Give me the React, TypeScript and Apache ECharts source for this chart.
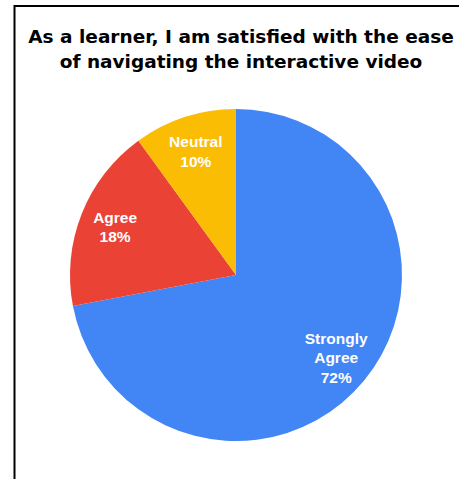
import React, { useEffect, useRef } from "react";
import * as echarts from "echarts";

const categories = ["Strongly Agree", "Agree", "Neutral"];
const values = [72, 18, 10];
const colors = ["#4285F4", "#EA4335", "#FBBC04"];
const titleText = "As a learner, I am satisfied with the ease\nof navigating the interactive video";

export default function App() {
  const ref = useRef<HTMLDivElement>(null);
  useEffect(() => {
    document.body.style.margin = "0";
    const chart = echarts.init(ref.current!, null, { renderer: "svg" });
    const data = categories.map((name, i) => ({ name, value: values[i], itemStyle: { color: colors[i] } }));
    chart.setOption({
      animation: false,
      title: {
        text: titleText,
        left: 236,
        top: 19,
        textAlign: "center",
        textStyle: {
          fontFamily: "DejaVu Sans, sans-serif",
          fontWeight: "bold",
          fontSize: 18.5,
          lineHeight: 25,
          color: "#000",
        },
      },
      graphic: [
        {
          type: "rect",
          shape: { x: 14.5, y: 6, width: 480, height: 500 },
          style: { fill: "none", stroke: "#000", lineWidth: 2 },
          silent: true,
        },
      ],
      series: [
        {
          type: "pie",
          center: [236, 275],
          radius: [0, 166],
          startAngle: 90,
          clockwise: true,
          label: { show: false },
          labelLine: { show: false },
          itemStyle: { borderWidth: 0 },
          data,
          silent: true,
        },
        {
          type: "pie",
          center: [236, 275],
          radius: [88, 166],
          startAngle: 90,
          clockwise: true,
          silent: true,
          itemStyle: { color: "transparent", borderWidth: 0 },
          labelLine: { show: false },
          label: {
            show: true,
            position: "inside",
            color: "#fff",
            fontFamily: "Liberation Sans, Arial, sans-serif",
            fontWeight: "bold",
            fontSize: 15.5,
            lineHeight: 19.5,
            formatter: (p: any) => p.name.split(" ").join("\n") + "\n" + p.value + "%",
          },
          data: categories.map((name, i) => ({ name, value: values[i] })),
        },
      ],
    });
    return () => chart.dispose();
  }, []);
  return <div ref={ref} style={{ width: 459, height: 479 }} />;
}
